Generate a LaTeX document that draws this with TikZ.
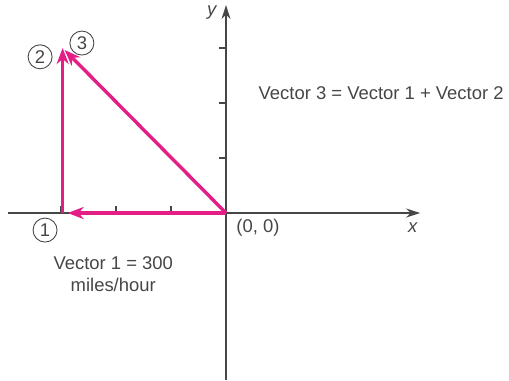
\documentclass[tikz,border=0pt]{standalone}
\usepackage{fontspec}
\setmainfont{Liberation Sans}
\usepackage{xcolor}
\usetikzlibrary{arrows}
\usetikzlibrary{arrows.meta, math}
\definecolor{vpink}{RGB}{228,30,135}
\definecolor{agray}{RGB}{70,70,70}

\tikzset{
  circnum/.style={circle, draw=agray, line width=0.9, inner sep=0pt, minimum size=24bp, font=\fontsize{18.5}{18.5}\selectfont, text=agray},
  lbl/.style={text=agray, font=\fontsize{18.5}{22}\selectfont},
  axis/.style={color=agray, line width=1.3, -{Stealth[length=14bp,width=9bp]}},
  vec/.style={line width=3.4, color=vpink, -{Stealth[length=16bp,width=12bp,inset=5bp]}}
}

\begin{document}
\begin{tikzpicture}[x=55bp, y=55bp]
\tikzmath{
\XL = -3.96;
\XR = 3.53;
\YB = -3.04;
\YT = 3.78;
\T = 0.13;
}
\useasboundingbox (-4.109,-3.036) rectangle (5.145,3.873);

\coordinate (O) at (0,0);
\coordinate (xa) at (\XL,0);
\coordinate (xb) at (\XR,0);
\coordinate (ya) at (0,\YB);
\coordinate (yb) at (0,\YT);
\coordinate (P1) at (-2.97,0);
\coordinate (P2) at (-2.97,3.0);

% axes
\draw[axis] (xa) -- (xb);
\draw[axis] (ya) -- (yb);
\foreach \i in {1,2,3}{
  \draw[color=agray, line width=1.3] (-\i,0) -- +(0,\T);
  \draw[color=agray, line width=1.3] (0,\i) -- +(-\T,0);
}

% vectors
\draw[vec] (O) -- ([xshift=5bp]P1);
\draw[vec] (P1) -- (P2);
\draw[vec] (O) -- ([xshift=2bp,yshift=-2bp]P2);

\node[lbl] (ylab) at (-0.25,3.64) {\textit{y}};
\node[lbl] (xlab) at (3.4,-0.27) {\textit{x}};
\node[lbl] (orig) at (0.58,-0.27) {(0, 0)};
\node[lbl] (sum) at (2.82,2.18) {Vector 3 = Vector 1 + Vector 2};
\node[lbl, align=center] (v1) at (-2.05,-1.11) {Vector 1 = 300\\miles/hour};

\node[circnum] (c1) at (-3.29,-0.31) {1};
\node[circnum] (c2) at (-3.38,2.84) {2};
\node[circnum] (c3) at (-2.62,3.09) {3};

\end{tikzpicture}
\end{document}
